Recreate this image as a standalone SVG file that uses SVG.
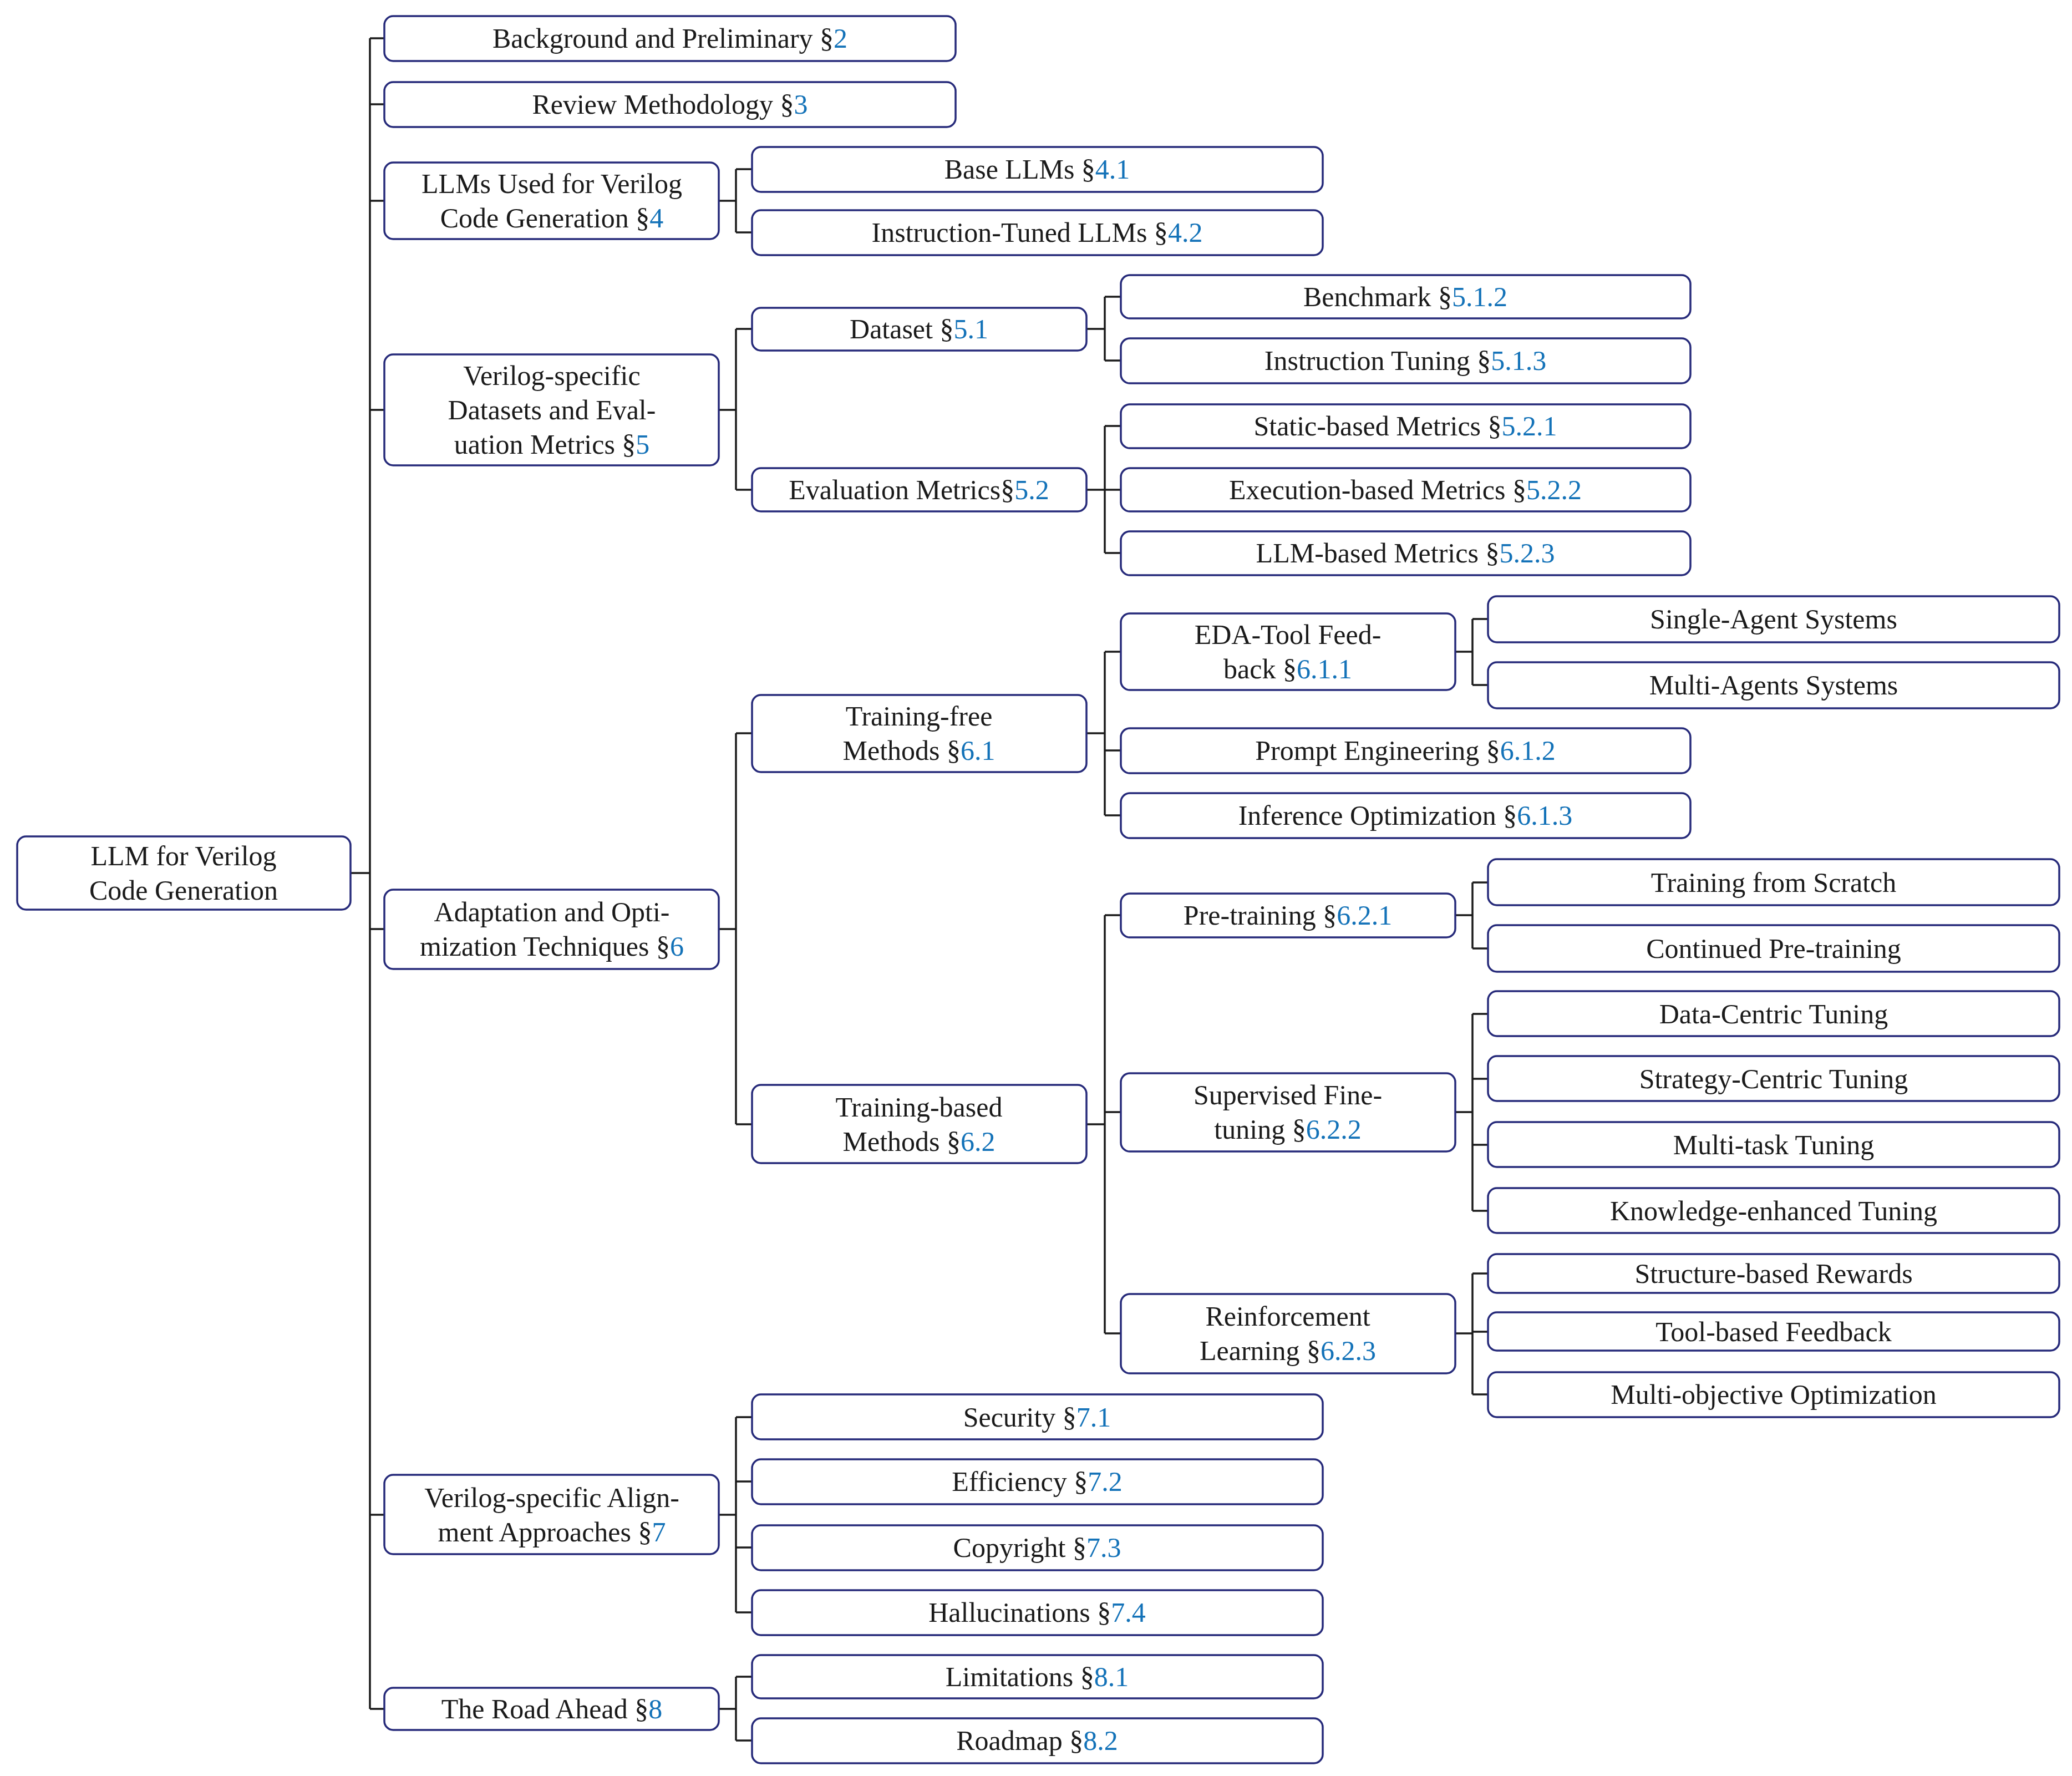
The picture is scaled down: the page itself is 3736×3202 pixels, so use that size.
<svg xmlns="http://www.w3.org/2000/svg" width="3736" height="3202" viewBox="0 0 3736 3202">
<style>
.b{fill:#fff;stroke:#262a7a;stroke-width:3.5}
text{font-family:"Liberation Serif","DejaVu Serif",serif;font-size:50px;fill:#1a1a1a;text-anchor:middle}
.n{fill:#1372b8}
.c{fill:none;stroke:#1a1a1a;stroke-width:3.5}
</style>
<rect width="3736" height="3202" fill="#fff"/>
<g id="connectors" class="c">
<path d="M632,1574H667M667,69V3081M667,69H693M667,188H693M667,362H693M667,739H693M667,1675H693M667,2731H693M667,3081H693"/>
<path d="M1296,362H1327M1327,305V419M1327,305H1356M1327,419H1356"/>
<path d="M1296,739H1327M1327,593V883M1327,593H1356M1327,883H1356"/>
<path d="M1959,593H1992M1992,535V650M1992,535H2021M1992,650H2021"/>
<path d="M1959,883H1992M1992,768V997M1992,768H2021M1992,883H2021M1992,997H2021"/>
<path d="M1296,1675H1327M1327,1322V2027M1327,1322H1356M1327,2027H1356"/>
<path d="M1959,1322H1992M1992,1175V1470M1992,1175H2021M1992,1353H2021M1992,1470H2021"/>
<path d="M2624,1175H2655M2655,1116V1235M2655,1116H2683M2655,1235H2683"/>
<path d="M1959,2027H1992M1992,1650V2404M1992,1650H2021M1992,2005H2021M1992,2404H2021"/>
<path d="M2624,1650H2655M2655,1591V1710M2655,1591H2683M2655,1710H2683"/>
<path d="M2624,2005H2655M2655,1828V2183M2655,1828H2683M2655,1945H2683M2655,2064H2683M2655,2183H2683"/>
<path d="M2624,2404H2655M2655,2296V2514M2655,2296H2683M2655,2401H2683M2655,2514H2683"/>
<path d="M1296,2731H1327M1327,2555V2907M1327,2555H1356M1327,2671H1356M1327,2790H1356M1327,2907H1356"/>
<path d="M1296,3081H1327M1327,3023V3138M1327,3023H1356M1327,3138H1356"/>
</g>
<g id="root"><rect class="b" x="31" y="1508" width="601" height="132" rx="16"/><text x="331" y="1560">LLM for Verilog</text><text x="331" y="1622">Code Generation</text></g>
<g id="n2"><rect class="b" x="693" y="29" width="1030" height="81" rx="16"/><text x="1208" y="86">Background and Preliminary §<tspan class="n">2</tspan></text></g>
<g id="n3"><rect class="b" x="693" y="148" width="1030" height="81" rx="16"/><text x="1208" y="205">Review Methodology §<tspan class="n">3</tspan></text></g>
<g id="n4"><rect class="b" x="693" y="293" width="603" height="138" rx="16"/><text x="995" y="348">LLMs Used for Verilog</text><text x="995" y="410">Code Generation §<tspan class="n">4</tspan></text></g>
<g id="n41"><rect class="b" x="1356" y="265" width="1029" height="81" rx="16"/><text x="1870" y="322">Base LLMs §<tspan class="n">4.1</tspan></text></g>
<g id="n42"><rect class="b" x="1356" y="379" width="1029" height="81" rx="16"/><text x="1870" y="436">Instruction-Tuned LLMs §<tspan class="n">4.2</tspan></text></g>
<g id="n5"><rect class="b" x="693" y="639" width="603" height="200" rx="16"/><text x="995" y="694">Verilog-specific</text><text x="995" y="756">Datasets and Eval-</text><text x="995" y="818">uation Metrics §<tspan class="n">5</tspan></text></g>
<g id="n51"><rect class="b" x="1356" y="555" width="603" height="77" rx="16"/><text x="1657" y="610">Dataset §<tspan class="n">5.1</tspan></text></g>
<g id="n512"><rect class="b" x="2021" y="496" width="1027" height="78" rx="16"/><text x="2534" y="552">Benchmark §<tspan class="n">5.1.2</tspan></text></g>
<g id="n513"><rect class="b" x="2021" y="610" width="1027" height="81" rx="16"/><text x="2534" y="667">Instruction Tuning §<tspan class="n">5.1.3</tspan></text></g>
<g id="n52"><rect class="b" x="1356" y="844" width="603" height="78" rx="16"/><text x="1657" y="900">Evaluation Metrics§<tspan class="n">5.2</tspan></text></g>
<g id="n521"><rect class="b" x="2021" y="729" width="1027" height="79" rx="16"/><text x="2534" y="785">Static-based Metrics §<tspan class="n">5.2.1</tspan></text></g>
<g id="n522"><rect class="b" x="2021" y="844" width="1027" height="78" rx="16"/><text x="2534" y="900">Execution-based Metrics §<tspan class="n">5.2.2</tspan></text></g>
<g id="n523"><rect class="b" x="2021" y="958" width="1027" height="79" rx="16"/><text x="2534" y="1014">LLM-based Metrics §<tspan class="n">5.2.3</tspan></text></g>
<g id="n6"><rect class="b" x="693" y="1604" width="603" height="143" rx="16"/><text x="995" y="1661">Adaptation and Opti-</text><text x="995" y="1723">mization Techniques §<tspan class="n">6</tspan></text></g>
<g id="n61"><rect class="b" x="1356" y="1253" width="603" height="139" rx="16"/><text x="1657" y="1308">Training-free</text><text x="1657" y="1370">Methods §<tspan class="n">6.1</tspan></text></g>
<g id="n611"><rect class="b" x="2021" y="1106" width="603" height="138" rx="16"/><text x="2322" y="1161">EDA-Tool Feed-</text><text x="2322" y="1223">back §<tspan class="n">6.1.1</tspan></text></g>
<g id="nsa"><rect class="b" x="2683" y="1075" width="1030" height="83" rx="16"/><text x="3198" y="1133">Single-Agent Systems</text></g>
<g id="nma"><rect class="b" x="2683" y="1194" width="1030" height="83" rx="16"/><text x="3198" y="1252">Multi-Agents Systems</text></g>
<g id="n612"><rect class="b" x="2021" y="1313" width="1027" height="81" rx="16"/><text x="2534" y="1370">Prompt Engineering §<tspan class="n">6.1.2</tspan></text></g>
<g id="n613"><rect class="b" x="2021" y="1430" width="1027" height="81" rx="16"/><text x="2534" y="1487">Inference Optimization §<tspan class="n">6.1.3</tspan></text></g>
<g id="n62"><rect class="b" x="1356" y="1956" width="603" height="141" rx="16"/><text x="1657" y="2013">Training-based</text><text x="1657" y="2075">Methods §<tspan class="n">6.2</tspan></text></g>
<g id="n621"><rect class="b" x="2021" y="1611" width="603" height="79" rx="16"/><text x="2322" y="1667">Pre-training §<tspan class="n">6.2.1</tspan></text></g>
<g id="nts"><rect class="b" x="2683" y="1549" width="1030" height="83" rx="16"/><text x="3198" y="1608">Training from Scratch</text></g>
<g id="ncp"><rect class="b" x="2683" y="1668" width="1030" height="84" rx="16"/><text x="3198" y="1727">Continued Pre-training</text></g>
<g id="n622"><rect class="b" x="2021" y="1935" width="603" height="141" rx="16"/><text x="2322" y="1991">Supervised Fine-</text><text x="2322" y="2053">tuning §<tspan class="n">6.2.2</tspan></text></g>
<g id="ndc"><rect class="b" x="2683" y="1787" width="1030" height="81" rx="16"/><text x="3198" y="1845">Data-Centric Tuning</text></g>
<g id="nsc"><rect class="b" x="2683" y="1904" width="1030" height="81" rx="16"/><text x="3198" y="1962">Strategy-Centric Tuning</text></g>
<g id="nmt"><rect class="b" x="2683" y="2023" width="1030" height="81" rx="16"/><text x="3198" y="2081">Multi-task Tuning</text></g>
<g id="nke"><rect class="b" x="2683" y="2142" width="1030" height="81" rx="16"/><text x="3198" y="2200">Knowledge-enhanced Tuning</text></g>
<g id="n623"><rect class="b" x="2021" y="2333" width="603" height="143" rx="16"/><text x="2322" y="2390">Reinforcement</text><text x="2322" y="2452">Learning §<tspan class="n">6.2.3</tspan></text></g>
<g id="nsr"><rect class="b" x="2683" y="2261" width="1030" height="70" rx="16"/><text x="3198" y="2313">Structure-based Rewards</text></g>
<g id="ntf"><rect class="b" x="2683" y="2366" width="1030" height="69" rx="16"/><text x="3198" y="2418">Tool-based Feedback</text></g>
<g id="nmo"><rect class="b" x="2683" y="2474" width="1030" height="81" rx="16"/><text x="3198" y="2531">Multi-objective Optimization</text></g>
<g id="n7"><rect class="b" x="693" y="2659" width="603" height="143" rx="16"/><text x="995" y="2717">Verilog-specific Align-</text><text x="995" y="2779">ment Approaches §<tspan class="n">7</tspan></text></g>
<g id="n71"><rect class="b" x="1356" y="2514" width="1029" height="81" rx="16"/><text x="1870" y="2572">Security §<tspan class="n">7.1</tspan></text></g>
<g id="n72"><rect class="b" x="1356" y="2631" width="1029" height="81" rx="16"/><text x="1870" y="2688">Efficiency §<tspan class="n">7.2</tspan></text></g>
<g id="n73"><rect class="b" x="1356" y="2750" width="1029" height="81" rx="16"/><text x="1870" y="2807">Copyright §<tspan class="n">7.3</tspan></text></g>
<g id="n74"><rect class="b" x="1356" y="2867" width="1029" height="81" rx="16"/><text x="1870" y="2924">Hallucinations §<tspan class="n">7.4</tspan></text></g>
<g id="n8"><rect class="b" x="693" y="3043" width="603" height="76" rx="16"/><text x="995" y="3098">The Road Ahead §<tspan class="n">8</tspan></text></g>
<g id="n81"><rect class="b" x="1356" y="2984" width="1029" height="78" rx="16"/><text x="1870" y="3040">Limitations §<tspan class="n">8.1</tspan></text></g>
<g id="n82"><rect class="b" x="1356" y="3098" width="1029" height="81" rx="16"/><text x="1870" y="3155">Roadmap §<tspan class="n">8.2</tspan></text></g>
</svg>
